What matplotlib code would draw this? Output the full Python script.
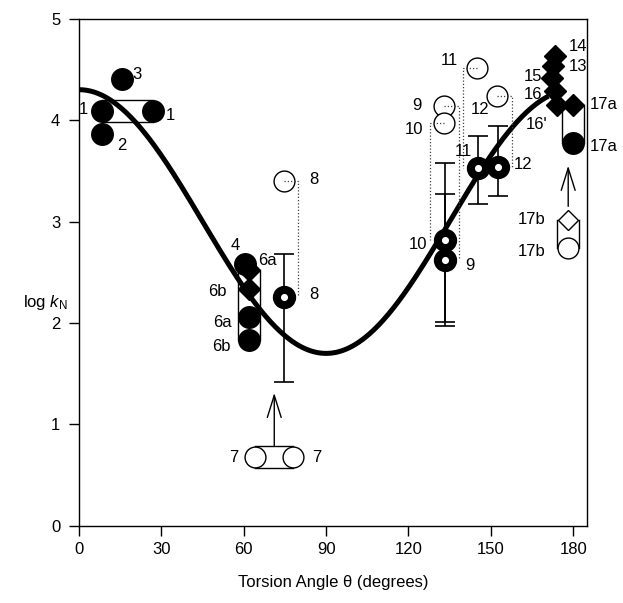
import numpy as np
import matplotlib
matplotlib.use('Agg')
import matplotlib.pyplot as plt
from matplotlib.transforms import offset_copy

plt.rcParams['font.family'] = ['Liberation Sans', 'DejaVu Sans']
plt.rcParams['mathtext.fontset'] = 'custom'
plt.rcParams['mathtext.rm'] = 'Liberation Sans'
plt.rcParams['mathtext.it'] = 'Liberation Sans:italic'

# Curva ajustada: log k = a + b cos^2(theta)
fit_a = 1.70
fit_b = 2.60
fit_theta_max = 171

# Circulos cheios
fc_theta = [8.3, 26.8, 15.6, 8.3, 60.5, 62.0, 62.0, 179.8]
fc_logk = [4.09, 4.09, 4.41, 3.86, 2.58, 2.06, 1.83, 3.77]
fc_label = ['1', '1', '3', '2', '4', '6a', '6b', '17a']

# Losangos cheios
fd_theta = [62.0, 62.0, 173.4, 172.8, 172.2, 173.4, 174.0, 179.8]
fd_logk = [2.52, 2.33, 4.63, 4.53, 4.42, 4.29, 4.15, 4.15]
fd_label = ['6a', '6b', '14', '13', '15', '16', "16'", '17a']

# Aneis grossos com barras de erro
ring_theta = [74.8, 133.3, 133.3, 145.2, 152.5]
ring_logk = [2.26, 2.82, 2.62, 3.53, 3.54]
ring_hi = [2.68, 3.58, 3.27, 3.84, 3.94]
ring_lo = [1.42, 2.01, 1.97, 3.17, 3.25]
ring_label = ['8', '10', '9', '11', '12']

# Circulos abertos finos
oc_theta = [74.8, 133.1, 133.1, 144.8, 152.4, 64.1, 78.1, 178.2]
oc_logk = [3.40, 4.14, 3.97, 4.51, 4.24, 0.68, 0.68, 2.74]
oc_label = ['8', '9', '10', '11', '12', '7', '7', '17b']

# Losango aberto
od_theta = [178.2]
od_logk = [3.02]
od_label = ['17b']

# Linhas pontilhadas: circulo fino -> nivel do anel
dot_label = ['8', '9', '10', '11', '12']
dot_x = [79.8, 138.5, 127.9, 140.0, 157.8]

# Setas
arrow_x = [71.1, 178.2]
arrow_tail = [0.79, 3.15]
arrow_tip = [1.31, 3.55]

# Deslocamento dos rotulos (pontos)
fc_off = [(-13.5, 1.4), (12.5, -2.9), (10.8, 3.1), (14.4, -8.4), (-7.2, 13.2),
          (-19.2, -4.3), (-19.9, -4.8), (22.3, -1.9)]
fd_off = [(13.2, 7.2), (-22.8, -1.2), (16.8, 7.2), (18, 0), (-13.2, 0.6),
          (-15.6, -2.6), (-14.4, -14.4), (22.3, 0)]
ring_off = [(20.9, 1.2), (-19.2, -3.6), (18, -3.6), (-10.4, 11.5), (18.4, 1.9)]
oc_off = [(20.9, 1.2), (-19.9, 0), (-21.8, -4.3), (-19.2, 6.0), (-12.5, -10.1),
          (-15.6, -0.4), (16.8, -0.4), (-26, -2.7)]
od_off = [(-26, 0)]

fig = plt.figure(figsize=(6.23, 6.03), dpi=100)
ax = fig.add_axes([0.127, 0.128, 0.815, 0.841])

# curva
th = np.linspace(0, fit_theta_max, 300)
ax.plot(th, fit_a + fit_b * np.cos(np.radians(th)) ** 2, color='k', lw=3.6,
        solid_capstyle='butt', zorder=2)


def capsule(p1, p2, r=7.9):
    """ Liga dois marcadores com duas linhas tangentes. """
    (x1, y1), (x2, y2) = p1, p2
    horiz = abs(x1 - x2) * 2.745 > abs(y1 - y2) * 101.4
    for s in (-1, 1):
        if horiz:
            tr = offset_copy(ax.transData, fig=fig, x=0, y=s * r, units='points')
        else:
            tr = offset_copy(ax.transData, fig=fig, x=s * r, y=0, units='points')
        ax.plot([x1, x2], [y1, y2], color='k', lw=1, transform=tr, zorder=2.5)


capsule((fc_theta[0], fc_logk[0]), (fc_theta[1], fc_logk[1]))
capsule((fd_theta[0], fd_logk[0]), (fc_theta[6], fc_logk[6]))
capsule((oc_theta[5], oc_logk[5]), (oc_theta[6], oc_logk[6]))
capsule((fd_theta[7], fd_logk[7]), (fc_theta[7], fc_logk[7]))
capsule((od_theta[0], od_logk[0]), (oc_theta[7], oc_logk[7]))

# barras de erro
ring_logk_a = np.array(ring_logk)
yerr = [ring_logk_a - np.array(ring_lo), np.array(ring_hi) - ring_logk_a]
ax.errorbar(ring_theta, ring_logk, yerr=yerr, fmt='none', ecolor='k',
            elinewidth=1.2, capsize=7.5, capthick=1.2, zorder=2.6)

# marcadores
ax.plot(oc_theta, oc_logk, 'o', ms=15, mfc='white', mec='k', mew=1, ls='none', zorder=3)
ax.plot(od_theta, od_logk, 'D', ms=10, mfc='white', mec='k', mew=1, ls='none', zorder=3)
ax.plot(fc_theta, fc_logk, 'o', ms=15.5, mfc='k', mec='k', ls='none', zorder=3)
ax.plot(fd_theta, fd_logk, 'D', ms=11.5, mfc='k', mec='k', ls='none', zorder=3.1)
ax.plot(ring_theta, ring_logk, 'o', ms=11, mfc='white', mec='k', mew=5.8,
        ls='none', zorder=4)

# pontilhados
for lab, bx in zip(dot_label, dot_x):
    i = oc_label.index(lab)
    y_ring = ring_logk[ring_label.index(lab)]
    ax.plot([oc_theta[i], bx, bx], [oc_logk[i], oc_logk[i], y_ring], color='0.25',
            lw=0.9, ls=(0, (1, 1.6)), zorder=3.5)

# setas
for x, y0, y1 in zip(arrow_x, arrow_tail, arrow_tip):
    ax.annotate('', xy=(x, y1), xytext=(x, y0),
                arrowprops=dict(arrowstyle='->, head_length=0.8, head_width=0.25',
                                mutation_scale=20, lw=1, color='k',
                                shrinkA=0, shrinkB=0))

# rotulos
groups = [(fc_theta, fc_logk, fc_label, fc_off),
          (fd_theta, fd_logk, fd_label, fd_off),
          (ring_theta, ring_logk, ring_label, ring_off),
          (oc_theta, oc_logk, oc_label, oc_off),
          (od_theta, od_logk, od_label, od_off)]
for xs, ys, labs, offs in groups:
    for x, y, lab, off in zip(xs, ys, labs, offs):
        ax.annotate(lab, xy=(x, y), xytext=off, textcoords='offset points',
                    ha='center', va='center', fontsize=12, zorder=6,
                    annotation_clip=False)

# eixos
ax.set_xlim(0, 185)
ax.set_ylim(0, 5)
ax.set_xticks([0, 30, 60, 90, 120, 150, 180])
ax.set_yticks([0, 1, 2, 3, 4, 5])
ax.tick_params(direction='out', length=7.5, width=1, labelsize=12)
ax.tick_params(axis='x', pad=4)
ax.tick_params(axis='y', pad=6)
for sp in ax.spines.values():
    sp.set_linewidth(1)

ax.set_xlabel('Torsion Angle θ (degrees)', fontsize=12)
ax.xaxis.set_label_coords(0.5, -0.097)
ax.set_ylabel(r'log $k_\mathrm{N}$', fontsize=12, rotation=0, ha='center', va='center')
ax.yaxis.set_label_coords(-0.067, 0.44)

fig.savefig('out.png', dpi=100)
